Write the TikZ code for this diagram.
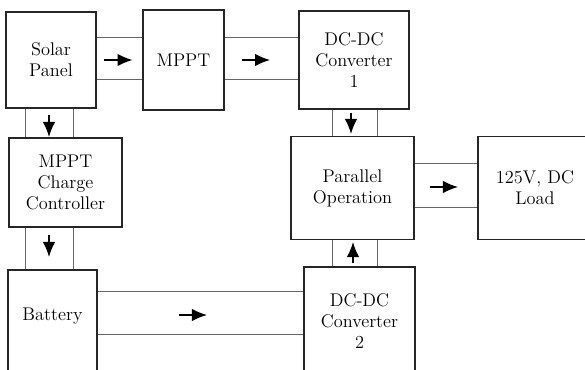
\documentclass[tikz,border=0pt]{standalone}
\usetikzlibrary{arrows.meta,calc}
\tikzset{
  blk/.style={draw=black!85,line width=1.1pt,rectangle,align=center,inner sep=2pt,
    text=black,font=\fontsize{11}{12.6}\selectfont},
  chan/.style={draw=black!60,line width=0.6pt},
  flow/.style={-{Latex[length=9pt,width=7.5pt]},line width=0.8pt,black}
}

\begin{document}
\begin{tikzpicture}[x=0.6pt,y=-0.6pt]
  \useasboundingbox (0,0) rectangle (585,370);
  % blocks
  \node[blk,minimum width=54pt,minimum height=57.6pt] (solar) at (51,60) {Solar\\Panel};
  \node[blk,minimum width=48.6pt,minimum height=60pt] (mppt) at (183.5,60) {MPPT};
  \node[blk,minimum width=66pt,minimum height=58.8pt] (dcone) at (354,60) {DC-DC\\Converter\\1};
  \node[blk,minimum width=67.8pt,minimum height=53.4pt] (charger) at (65.5,182.5) {MPPT\\Charge\\Controller};
  \node[blk,minimum width=73.8pt,minimum height=61.8pt] (par) at (352.5,188) {Parallel\\Operation};
  \node[blk,minimum width=68.4pt,minimum height=61.8pt] (load) at (535,188) {125V, DC\\Load};
  \node[blk,minimum width=53.4pt,minimum height=72pt] (bat) at (52.5,330) {};
  \node[blk,draw=none] (battxt) at (52.5,316) {Battery};
  \node[blk,minimum width=66.6pt,minimum height=64.8pt] (dctwo) at (359.5,321) {DC-DC\\Converter\\2};

  % channels
  \foreach \d in {-22,20}{
    \draw[chan] ($(solar.east)+(0,\d)$) coordinate (p) -- (p -| mppt.west);
    \draw[chan] ($(mppt.east)+(0,\d)$) coordinate (p) -- (p -| dcone.west);
  }
  \foreach \d in {-22,23}
    \draw[chan] ($(dcone.south)+(\d,0)$) coordinate (p) -- (p |- par.north);
  \foreach \d in {-26,22}
    \draw[chan] ($(solar.south)+(\d,0)$) coordinate (p) -- (p |- charger.north);
  \foreach \d in {-40.5,7.5}
    \draw[chan] ($(charger.south)+(\d,0)$) coordinate (p) -- (p |- bat.north);
  \foreach \d in {-27.5,17.5}
    \draw[chan] ($(dctwo.north)+(\d,0)$) coordinate (p) -- (p |- par.south);
  \foreach \d in {-24,20}
    \draw[chan] ($(par.east)+(0,\d)$) coordinate (p) -- (p -| load.west);
  \foreach \d in {-39,4}
    \draw[chan] ($(bat.east)+(0,\d)$) coordinate (p) -- (p -| dctwo.west);

  % flow arrows
  \draw[flow] ($(solar.east)!.5!(mppt.west)+(-16,0)$) -- ++(29,0);
  \draw[flow] ($(mppt.east)!.5!(dcone.west)+(-19.5,0)$) -- ++(28,0);
  \draw[flow] ($(dcone.south)+(-3,3)$) -- ++(0,21);
  \draw[flow] ($(solar.south)+(-2,6)$) -- ++(0,22);
  \draw[flow] ($(charger.south)+(-16.5,7)$) -- ++(0,22);
  \draw[flow] ($(bat.east)+(81,-15)$) -- ++(28,0);
  \draw[flow] ($(dctwo.north)+(-6.5,-3)$) -- ++(0,-21);
  \draw[flow] ($(par.east)+(15,-1)$) -- ++(28,0);
\end{tikzpicture}
\end{document}
